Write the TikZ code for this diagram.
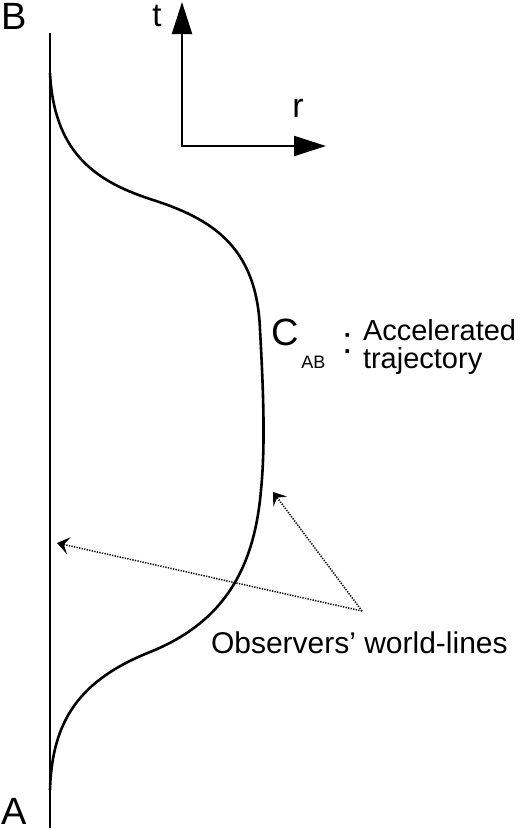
\documentclass[tikz,border=0pt]{standalone}
\usepackage{fontspec}
\setmainfont{Liberation Sans}
\usepackage{tikz}
\usetikzlibrary{arrows.meta,positioning}
\tikzstyle{lbl} = [inner sep=0pt,outer sep=0pt]
\tikzstyle{axis} = [line width=2.2pt,line join=miter,{Triangle[length=32pt,width=20pt]}-{Triangle[length=32pt,width=20pt]}]
\tikzstyle{observer} = [line width=1.5pt,dash pattern=on 1.3pt off 1.3pt,-{Stealth[length=12pt,width=17pt,inset=5pt]}]

\begin{document}
\begin{tikzpicture}[x=1pt,y=-1pt,
        every node/.style={lbl}]
        \useasboundingbox (0,0) rectangle (525,831);

        % straight world-line from A to B
        \coordinate (top) at (50,33);
        \coordinate (bot) at (50,828);
        \draw[line width=2.6pt] (bot) -- (top);
        \node[font=\fontsize{38}{40}\selectfont] (B) at (14.5,16) {B};
        \node[font=\fontsize{38}{40}\selectfont] (A) at (14.5,811) {A};

        % accelerated trajectory
        \draw[line width=2.6pt] (50,73) .. controls (54,150) and (92,180) .. (150,199)
          .. controls (210,218) and (257,245) .. (260,330)
          .. controls (264,400) and (265,450) .. (261,490)
          .. controls (255,560) and (230,620) .. (150,652)
          .. controls (80,680) and (52,720) .. (50,790);

        % t and r axes
        \coordinate (O) at (182,146);
        \coordinate (tTip) at (182,2);
        \coordinate (rTip) at (326,146);
        \draw[axis] (tTip) -- (O) -- (rTip);
        \node[font=\fontsize{33}{35}\selectfont] (t) at (157,16) {t};
        \node[font=\fontsize{34}{36}\selectfont] (r) at (298,108) {r};

        % label of the trajectory
        \node[anchor=base west,font=\fontsize{38}{40}\selectfont] (Cab) at (271,345)
          {C\kern3pt\raisebox{-23pt}{\fontsize{18}{18}\selectfont AB}};
        \node[anchor=base west,font=\fontsize{38}{40}\selectfont] (colon) at (342,353) {:};
        \node[anchor=base west,font=\fontsize{29}{30}\selectfont] (accel) at (363,340) {Accelerated};
        \node[anchor=base west,font=\fontsize{29}{30}\selectfont] (traj) at ([yshift=-28pt]accel.base west) {trajectory};

        % observers
        \node[anchor=base west,font=\fontsize{30}{32}\selectfont] (obs) at (211,653) {Observers’ world-lines};
        \coordinate (src) at (362,611);
        \coordinate (tipL) at (57,543);
        \coordinate (tipR) at (273,492);
        \draw[observer] (src) -- (tipL);
        \draw[observer] (src) -- (tipR);

      \end{tikzpicture}
\end{document}
